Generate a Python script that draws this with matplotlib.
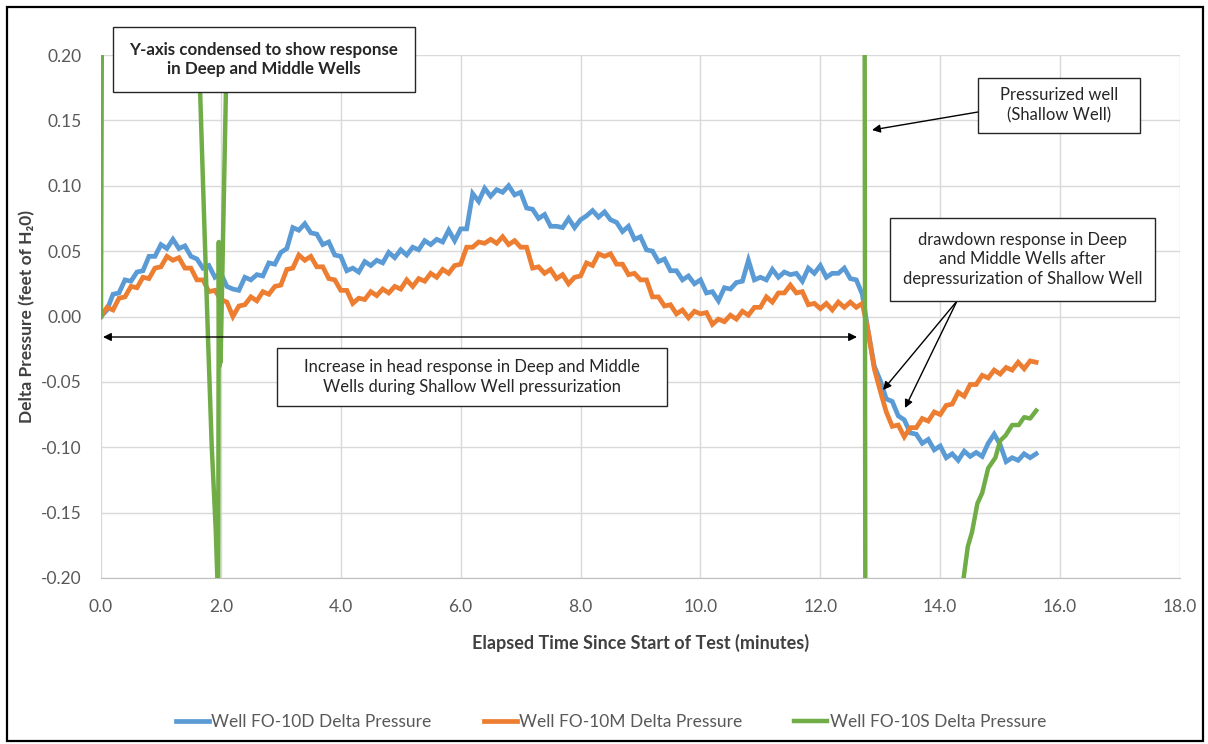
import numpy as np
import matplotlib
matplotlib.use("Agg")
import matplotlib.pyplot as plt
from matplotlib.patches import Rectangle

plt.rcParams['font.family'] = ['Lato', 'DejaVu Sans']

# ---------------- data ----------------
time_step = 0.1
deep_10d = [
    0.000, 0.005, 0.017, 0.018, 0.028, 0.027, 0.034, 0.035, 0.046, 0.046,
    0.055, 0.052, 0.059, 0.052, 0.054, 0.046, 0.044, 0.037, 0.039, 0.030,
    0.033, 0.023, 0.021, 0.020, 0.030, 0.028, 0.032, 0.031, 0.041, 0.040,
    0.049, 0.052, 0.068, 0.066, 0.071, 0.064, 0.063, 0.055, 0.057, 0.047,
    0.046, 0.035, 0.037, 0.034, 0.042, 0.039, 0.043, 0.041, 0.049, 0.045,
    0.051, 0.047, 0.053, 0.051, 0.058, 0.055, 0.059, 0.057, 0.066, 0.058,
    0.067, 0.067, 0.094, 0.088, 0.098, 0.092, 0.097, 0.095, 0.100, 0.093,
    0.095, 0.083, 0.082, 0.075, 0.078, 0.069, 0.069, 0.068, 0.075, 0.068,
    0.074, 0.077, 0.081, 0.076, 0.080, 0.074, 0.072, 0.065, 0.069, 0.059,
    0.061, 0.051, 0.050, 0.042, 0.044, 0.035, 0.035, 0.028, 0.031, 0.025,
    0.028, 0.018, 0.019, 0.012, 0.022, 0.021, 0.026, 0.027, 0.043, 0.028,
    0.030, 0.028, 0.036, 0.030, 0.034, 0.032, 0.033, 0.027, 0.037, 0.033,
    0.039, 0.030, 0.033, 0.033, 0.037, 0.029, 0.028, 0.017, -0.012, -0.038,
    -0.049, -0.063, -0.065, -0.076, -0.079, -0.089, -0.090, -0.097, -0.094, -0.102,
    -0.099, -0.108, -0.105, -0.110, -0.103, -0.107, -0.104, -0.107, -0.097, -0.090,
    -0.098, -0.111, -0.108, -0.110, -0.105, -0.108, -0.105,
]
middle_10m = [
    0.000, 0.007, 0.005, 0.014, 0.015, 0.023, 0.022, 0.030, 0.029, 0.037,
    0.038, 0.046, 0.043, 0.045, 0.037, 0.037, 0.028, 0.028, 0.019, 0.020,
    0.013, 0.011, 0.000, 0.008, 0.009, 0.015, 0.012, 0.019, 0.017, 0.023,
    0.024, 0.036, 0.037, 0.047, 0.043, 0.046, 0.038, 0.038, 0.029, 0.028,
    0.020, 0.020, 0.010, 0.014, 0.013, 0.019, 0.016, 0.021, 0.018, 0.023,
    0.021, 0.028, 0.023, 0.029, 0.027, 0.033, 0.030, 0.036, 0.033, 0.039,
    0.040, 0.053, 0.053, 0.057, 0.056, 0.059, 0.056, 0.061, 0.055, 0.058,
    0.053, 0.053, 0.037, 0.038, 0.033, 0.036, 0.029, 0.032, 0.025, 0.030,
    0.031, 0.041, 0.039, 0.048, 0.046, 0.048, 0.040, 0.040, 0.032, 0.033,
    0.028, 0.028, 0.015, 0.015, 0.008, 0.009, 0.002, 0.005, -0.001, 0.004,
    0.002, 0.003, -0.006, -0.002, -0.004, 0.001, -0.002, 0.004, 0.001, 0.007,
    0.007, 0.015, 0.011, 0.018, 0.018, 0.024, 0.018, 0.019, 0.009, 0.010,
    0.006, 0.010, 0.005, 0.011, 0.007, 0.011, 0.007, 0.010, -0.012, -0.040,
    -0.057, -0.073, -0.084, -0.083, -0.092, -0.085, -0.085, -0.078, -0.080, -0.073,
    -0.075, -0.068, -0.067, -0.058, -0.061, -0.052, -0.052, -0.045, -0.047, -0.041,
    -0.044, -0.039, -0.041, -0.035, -0.040, -0.034, -0.035,
]
shallow_t = [0.00, 0.04, 1.60, 1.652, 1.735, 1.79, 1.847, 1.914, 1.94, 1.955,
             1.965, 1.975, 1.985, 1.995, 2.10, 2.15, 12.73, 12.76, 13.50, 14.20,
             14.39, 14.46, 14.53, 14.62, 14.70, 14.80, 14.92, 15.00, 15.09, 15.20,
             15.31, 15.40, 15.50, 15.60]
shallow_v = [0.000, 0.600, 0.600, 0.174, 0.054, -0.023, -0.099, -0.163, -0.199, -0.220,
             0.057, -0.038, 0.050, -0.035, 0.210, 0.600, 0.600, -0.600, -0.450, -0.260,
             -0.200, -0.176, -0.165, -0.143, -0.135, -0.116, -0.108, -0.095, -0.091, -0.083,
             -0.083, -0.077, -0.078, -0.072]

series_labels = ["Well FO-10D Delta Pressure", "Well FO-10M Delta Pressure",
                 "Well FO-10S Delta Pressure"]
x_ticks = [0, 2, 4, 6, 8, 10, 12, 14, 16, 18]
y_ticks = [-0.20, -0.15, -0.10, -0.05, 0.00, 0.05, 0.10, 0.15, 0.20]

t_dm = np.arange(len(deep_10d)) * time_step

# ---------------- figure ----------------
W, H = 1208, 744
fig = plt.figure(figsize=(W / 100, H / 100), dpi=100)
L, R, T, B = 101, 1180, 55, 578
ax = fig.add_axes([L / W, 1 - B / H, (R - L) / W, (B - T) / H])

c_blue, c_orange, c_green = "#5B9BD5", "#ED7D31", "#70AD47"
ax.plot(t_dm, deep_10d, color=c_blue, lw=3.4, label=series_labels[0], zorder=3,
        solid_joinstyle="miter")
ax.plot(t_dm, middle_10m, color=c_orange, lw=3.4, label=series_labels[1], zorder=3,
        solid_joinstyle="miter")
ax.plot(shallow_t, shallow_v, color=c_green, lw=3.2, label=series_labels[2], zorder=4)

ax.set_xlim(0, 18)
ax.set_ylim(-0.20, 0.20)
ax.set_xticks(x_ticks)
ax.set_xticklabels([f"{v:.1f}" for v in x_ticks])
ax.set_yticks(y_ticks)
ax.set_yticklabels([f"{v:.2f}" for v in y_ticks])
ax.grid(True, color="#d9d9d9", lw=1)
ax.set_axisbelow(True)
for s in ["top", "right", "left"]:
    ax.spines[s].set_visible(False)
ax.spines["bottom"].set_color("#bfbfbf")
ax.tick_params(length=0, labelsize=12.5, colors="#595959")
ax.tick_params(axis="x", pad=15)
ax.tick_params(axis="y", pad=14)

ax.set_xlabel("Elapsed Time Since Start of Test (minutes)", fontsize=13,
              fontweight="bold", color="#404040", labelpad=14)
ax.set_ylabel("Delta Pressure (feet of H\u20820)", fontsize=12.5,
              fontweight="bold", color="#404040", labelpad=4,
              family=['Lato', 'DejaVu Sans'])

def px2d(x, y):
    return ((x - L) / (R - L) * 18.0, 0.20 - (y - T) / (B - T) * 0.40)

def box(x0, y0, x1, y1, text, bold=False, size=12):
    (dx0, dy0), (dx1, dy1) = px2d(x0, y1), px2d(x1, y0)
    ax.add_patch(Rectangle((dx0, dy0), dx1 - dx0, dy1 - dy0, facecolor="white",
                           edgecolor="#262626", lw=1.0, zorder=6, clip_on=False))
    cx, cy = px2d((x0 + x1) / 2, (y0 + y1) / 2)
    ax.text(cx, cy, text, ha="center", va="center", fontsize=size,
            fontweight="bold" if bold else "normal", color="#262626",
            zorder=7, linespacing=1.3, clip_on=False)

aprops = dict(arrowstyle="-|>", color="black", lw=1.0, mutation_scale=12,
              shrinkA=0, shrinkB=0)
# double arrow
ax.annotate("", xy=px2d(103, 337), xytext=px2d(857, 337),
            arrowprops=dict(arrowstyle="<|-|>", color="black", lw=1.0,
                            mutation_scale=12, shrinkA=0, shrinkB=0), zorder=5)
ax.annotate("", xy=px2d(872, 130), xytext=px2d(978, 112), arrowprops=aprops, zorder=5)
ax.annotate("", xy=px2d(883, 390), xytext=px2d(957, 301), arrowprops=aprops, zorder=5)
ax.annotate("", xy=px2d(905, 408), xytext=px2d(957, 301), arrowprops=aprops, zorder=5)

box(113, 27, 415, 92, "Y-axis condensed to show response\nin Deep and Middle Wells",
    bold=True, size=12.2)
box(277, 348, 667, 406, "Increase in head response in Deep and Middle\nWells during Shallow Well pressurization")
box(978, 78, 1140, 133, "Pressurized well\n(Shallow Well)")
box(890, 218, 1155, 301, "drawdown response in Deep\nand Middle Wells after\ndepressurization of Shallow Well")

leg = fig.legend(loc="center", bbox_to_anchor=(611 / W, 1 - 722 / H), ncol=3,
                 frameon=False, fontsize=12.5, handlelength=1.9, handletextpad=0.15,
                 columnspacing=3.0)
for txt in leg.get_texts():
    txt.set_color("#595959")

fig.add_artist(Rectangle((7 / W, 3 / H), (1203 - 7) / W, (737 - 3) / H,
                         transform=fig.transFigure, fill=False, edgecolor="black", lw=1.6))

fig.savefig("out.png", dpi=100)
